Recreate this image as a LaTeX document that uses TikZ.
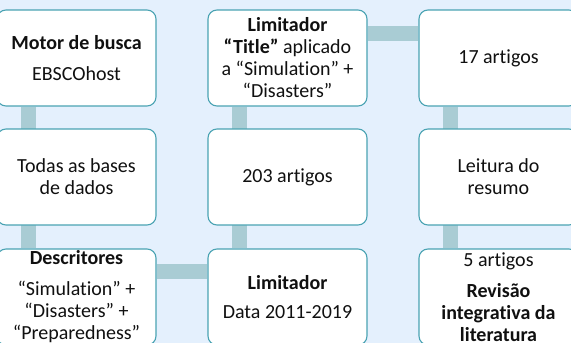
\documentclass[tikz,border=0pt]{standalone}
\usepackage{fontspec}
\setmainfont{Carlito}[Ligatures={NoCommon}]
\pgfdeclarelayer{back}
\pgfdeclarelayer{conn}
\pgfsetlayers{back,conn,main}
\definecolor{bgc}{HTML}{E4F0FD}
\definecolor{connc}{HTML}{A9CCD4}
\definecolor{edgec}{HTML}{4AA3B3}
\definecolor{txtc}{HTML}{101010}
\tikzset{
  box/.style={draw=edgec, line width=1.1pt, fill=white, rounded corners=9pt,
    minimum width=159pt, minimum height=96pt, inner sep=0pt, align=center,
    text=txtc, font=\fontsize{20}{22}\selectfont},
  conn/.style={draw=connc, line width=15pt}
}
\begin{document}
\begin{tikzpicture}[x=1pt,y=-1pt]
\begin{pgfonlayer}{back}
  \fill[bgc] (0,0) rectangle (571,343);
\end{pgfonlayer}
\useasboundingbox (0,0) rectangle (571,343);
\node[box] (b11) at (76.5,58) {\textbf{Motor de busca}\\[9pt]EBSCOhost};
\node[box] (b21) at (76.5,177) {Todas as bases\\de dados};
\node[box] (b31) at (76.5,297) {\textbf{Descritores}\\[9pt]“Simulation” +\\“Disasters” +\\“Preparedness”};
\node[box] (b12) at (287.5,58) {\textbf{Limitador}\\\textbf{“Title”} aplicado\\a “Simulation” +\\“Disasters”};
\node[box] (b22) at (287.5,177) {203 artigos};
\node[box] (b32) at (287.5,297) {\textbf{Limitador}\\[7pt]Data 2011-2019};
\node[box] (b13) at (498.5,58) {17 artigos};
\node[box] (b23) at (498.5,177) {Leitura do\\resumo};
\node[box] (b33) at (498.5,297) {5 artigos\\[9pt]\textbf{Revisão}\\\textbf{integrativa da}\\\textbf{literatura}};
\begin{pgfonlayer}{conn}
  \draw[conn] ([xshift=32.5pt]b11.south west) -- ([xshift=32.5pt]b31.north west);
  \draw[conn] ([xshift=32.5pt]b12.south west) -- ([xshift=32.5pt]b32.north west);
  \draw[conn] ([xshift=32.5pt]b13.south west) -- ([xshift=32.5pt]b33.north west);
  \draw[conn] ([yshift=-24pt]b12.north east) -- ([yshift=-24pt]b13.north west);
  \draw[conn] ([yshift=-23pt]b31.north east) -- ([yshift=-23pt]b32.north west);
\end{pgfonlayer}
\end{tikzpicture}
\end{document}
